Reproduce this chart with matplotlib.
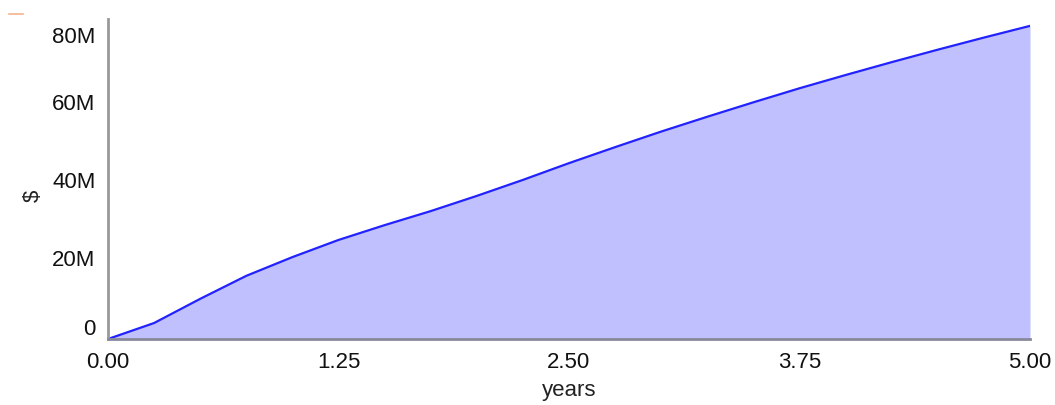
import matplotlib.pyplot as plt
import matplotlib.transforms as mtransforms
from matplotlib.lines import Line2D
from matplotlib.ticker import FuncFormatter

years = [0.0, 0.25, 0.5, 0.75, 1.0, 1.25, 1.5, 1.75, 2.0, 2.25, 2.5,
         2.75, 3.0, 3.25, 3.5, 3.75, 4.0, 4.25, 4.5, 4.75, 5.0]
value_m = [0.0, 4.1, 10.3, 16.2, 21.0, 25.4, 29.2, 32.8, 36.7, 40.8, 45.1,
           49.2, 53.2, 57.0, 60.7, 64.3, 67.7, 71.0, 74.2, 77.3, 80.3]
x_ticks = [0.0, 1.25, 2.5, 3.75, 5.0]
y_ticks = [0, 20, 40, 60, 80]

plt.rcParams['font.family'] = ['Liberation Sans', 'DejaVu Sans']

fig = plt.figure(figsize=(10.55, 4.06), dpi=100)
ax = fig.add_axes([108 / 1055, 1 - 340 / 406, 922 / 1055, 320 / 406])

values = [v * 1e6 for v in value_m]
ax.fill_between(years, values, 0, color='#c0c0ff', lw=0)
ax.plot(years, values, color='#2222ff', lw=1.6)

ax.set_xlim(0, 5)
ax.set_ylim(0, max(values) * 1.022)
ax.set_xticks(x_ticks)
ax.set_yticks([v * 1e6 for v in y_ticks])
ax.xaxis.set_major_formatter(FuncFormatter(lambda v, p: '%.2f' % v))
ax.yaxis.set_major_formatter(FuncFormatter(
    lambda v, p: '0' if v == 0 else '%dM' % round(v / 1e6)))
ax.tick_params(length=0, labelsize=16, colors='#111111', pad=9)
ax.tick_params(axis='x', pad=9)

for s in ['top', 'right']:
    ax.spines[s].set_visible(False)
ax.spines['left'].set_color('#999999')
ax.spines['left'].set_linewidth(2)
ax.spines['bottom'].set_color('#888899')
ax.spines['bottom'].set_linewidth(2)

# nudge y labels like the original (edge labels kept inside the axis)
fig.canvas.draw()
labels = ax.get_yticklabels()
shifts = [13, 4, 4, 4, -7]
for lab, dy in zip(labels, shifts):
    lab.set_transform(lab.get_transform() +
                      mtransforms.ScaledTranslation(0, dy / 100, fig.dpi_scale_trans))

ax.set_xlabel('years', fontsize=16, color='#222222', labelpad=5)
ax.set_ylabel('$', fontsize=16, color='#222222')
ax.yaxis.set_label_coords(-0.07, 0.45)

fig.add_artist(Line2D([9 / 1055, 23 / 1055], [1 - 15 / 406, 1 - 15 / 406],
                      color='#f0a070', lw=1.2, alpha=0.8))

fig.savefig('out.png', dpi=100)
